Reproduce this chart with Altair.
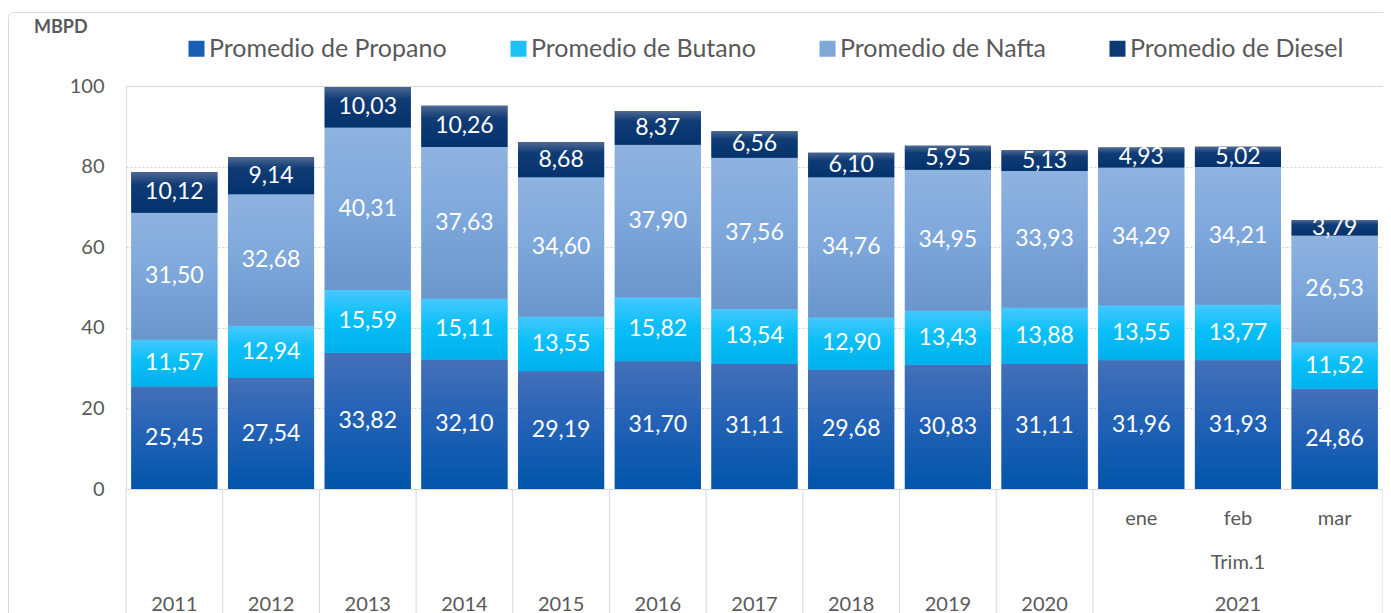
import altair as alt
import pandas as pd

categories = ["2011", "2012", "2013", "2014", "2015", "2016", "2017", "2018", "2019", "2020", "ene", "feb", "mar"]
series_names = ["Promedio de Propano", "Promedio de Butano", "Promedio de Nafta", "Promedio de Diesel"]
propano = [25.45, 27.54, 33.82, 32.10, 29.19, 31.70, 31.11, 29.68, 30.83, 31.11, 31.96, 31.93, 24.86]
butano = [11.57, 12.94, 15.59, 15.11, 13.55, 15.82, 13.54, 12.90, 13.43, 13.88, 13.55, 13.77, 11.52]
nafta = [31.50, 32.68, 40.31, 37.63, 34.60, 37.90, 37.56, 34.76, 34.95, 33.93, 34.29, 34.21, 26.53]
diesel = [10.12, 9.14, 10.03, 10.26, 8.68, 8.37, 6.56, 6.10, 5.95, 5.13, 4.93, 5.02, 3.79]
month_labels = ["ene", "feb", "mar"]
quarter_label = "Trim.1"
year_label_cats = ["2011", "2012", "2013", "2014", "2015", "2016", "2017", "2018", "2019", "2020", "feb"]
year_labels = ["2011", "2012", "2013", "2014", "2015", "2016", "2017", "2018", "2019", "2020", "2021"]
boundary_cats = ["2011", "2012", "2013", "2014", "2015", "2016", "2017", "2018", "2019", "2020", "ene"]
y_ticks = [0, 20, 40, 60, 80, 100]

FONT = "Lato"
TXT = "#595959"
W, H = 1257, 403
PI = 0.11
STEP = W / len(categories)
HALF_GAP = STEP * PI / 2

rows = []
all_series = [propano, butano, nafta, diesel]
for i, cat in enumerate(categories):
    base = 0.0
    for s, vals in zip(series_names, all_series):
        v = vals[i]
        rows.append({"cat": cat, "series": s, "start": base, "end": base + v,
                     "mid": base + v / 2, "label": f"{v:.2f}".replace(".", ",")})
        base += v
df = pd.DataFrame(rows)

def grad(stops):
    return alt.LinearGradient(
        gradient="linear", x1=0, x2=0, y1=0, y2=1,
        stops=[alt.GradientStop(color=c, offset=o) for o, c in stops])

gradients = {
    "Promedio de Propano": grad([(0, "#4470B8"), (0.45, "#2462B6"), (1, "#0055AA")]),
    "Promedio de Butano": grad([(0, "#45C8FF"), (0.45, "#0ABFF7"), (1, "#00B0EC")]),
    "Promedio de Nafta": grad([(0, "#8FB3E0"), (0.45, "#7FA8DC"), (1, "#6A96CC")]),
    "Promedio de Diesel": grad([(0, "#4D6892"), (0.3, "#103C76"), (1, "#04326C")]),
}
solid = ["#1A5EB4", "#1EC0F8", "#7EA7DA", "#0E3A74"]

xscale = alt.Scale(domain=categories, paddingInner=PI, paddingOuter=PI / 2)
yscale = alt.Scale(domain=[0, 100], nice=False)

frame = alt.Chart(pd.DataFrame({"k": [0]})).mark_rect(
    fill="white", fillOpacity=0, stroke="#D9D9D9", strokeWidth=1, cornerRadius=6).encode(
    x=alt.value(-117.5), x2=alt.value(W + 60), y=alt.value(-73.5), y2=alt.value(H + 200))

base = alt.Chart(df)

legend_layer = base.mark_bar().encode(
    x=alt.X("cat:N", scale=xscale, sort=categories,
            axis=alt.Axis(labels=False, ticks=False, title=None, domain=True,
                          domainColor="#D9D9D9", grid=False)),
    y=alt.Y("start:Q", scale=yscale,
            axis=alt.Axis(values=y_ticks, title=None, domain=False, ticks=False,
                          labelFont=FONT, labelFontSize=20, labelColor=TXT, labelPadding=22,
                          grid=True, gridColor="#D0D0D0", gridDash=[2, 2], gridWidth=1)),
    y2="end:Q",
    color=alt.Color("series:N", scale=alt.Scale(domain=series_names, range=solid),
                    legend=alt.Legend(orient="none", legendX=58, legendY=-50, direction="horizontal",
                                      title=None, symbolType="square", symbolSize=256,
                                      symbolStrokeWidth=0, labelFont=FONT, labelFontSize=25,
                                      labelColor=TXT, columnPadding=59, labelOffset=0,
                                      labelLimit=400, columns=4)),
)

layers = [frame, legend_layer]
for s in series_names:
    layers.append(
        base.transform_filter(alt.datum.series == s).mark_bar(color=gradients[s]).encode(
            x=alt.X("cat:N", scale=xscale, sort=categories),
            y=alt.Y("start:Q", scale=yscale),
            y2="end:Q",
        )
    )

labels = base.mark_text(font=FONT, fontSize=23, color="white", baseline="middle").encode(
    x=alt.X("cat:N", scale=xscale, sort=categories),
    y=alt.Y("mid:Q", scale=yscale),
    text="label:N",
)
layers.append(labels)

bdf = pd.DataFrame({"cat": boundary_cats})
boundaries = alt.Chart(bdf).mark_rule(color="#D9D9D9", strokeWidth=1, xOffset=-HALF_GAP).encode(
    x=alt.X("cat:N", scale=xscale, sort=categories, bandPosition=0),
    y=alt.value(H), y2=alt.value(H + 140),
)
right_edge = alt.Chart(pd.DataFrame({"cat": [categories[-1]]})).mark_rule(
    color="#D9D9D9", strokeWidth=1, xOffset=HALF_GAP).encode(
    x=alt.X("cat:N", scale=xscale, sort=categories, bandPosition=1),
    y=alt.value(H), y2=alt.value(H + 140),
)
layers += [boundaries, right_edge]

mdf = pd.DataFrame({"cat": month_labels, "text": month_labels})
months = alt.Chart(mdf).mark_text(font=FONT, fontSize=20, color=TXT, baseline="middle").encode(
    x=alt.X("cat:N", scale=xscale, sort=categories), y=alt.value(H + 30), text="text:N")
trim = alt.Chart(pd.DataFrame({"cat": ["feb"], "text": [quarter_label]})).mark_text(
    font=FONT, fontSize=20, color=TXT, baseline="middle").encode(
    x=alt.X("cat:N", scale=xscale, sort=categories), y=alt.value(H + 74), text="text:N")
ydf = pd.DataFrame({"cat": year_label_cats, "text": year_labels})
years = alt.Chart(ydf).mark_text(font=FONT, fontSize=20, color=TXT, baseline="middle").encode(
    x=alt.X("cat:N", scale=xscale, sort=categories), y=alt.value(H + 116), text="text:N")
layers += [months, trim, years]

unit = alt.Chart(pd.DataFrame({"t": ["MBPD"]})).mark_text(
    font=FONT, fontSize=18, fontWeight="bold", color=TXT, align="left", baseline="middle").encode(
    x=alt.value(-92), y=alt.value(-58), text="t:N")
layers.append(unit)

chart = alt.layer(*layers).properties(
    width=W, height=H,
    autosize=alt.AutoSizeParams(type="none"),
    padding={"left": 118, "top": 78, "right": 0, "bottom": 124},
).configure_view(stroke=None).configure(background="white")

chart.save("out.html", embed_options={"renderer": "svg", "actions": False})
